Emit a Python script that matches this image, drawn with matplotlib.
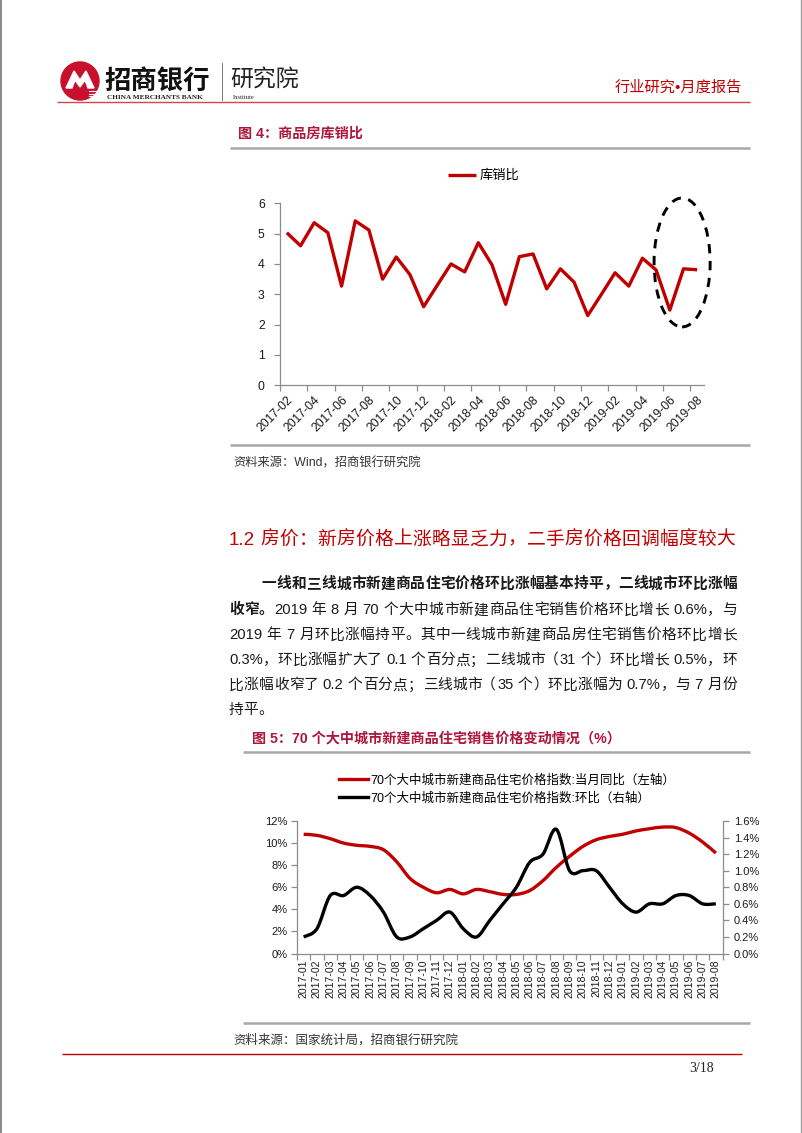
import numpy as np
import pandas as pd
import matplotlib
matplotlib.use("Agg")
import matplotlib.pyplot as plt
from matplotlib.patches import Ellipse, Circle, Polygon, PathPatch
from matplotlib.path import Path
from matplotlib.lines import Line2D
from matplotlib.ticker import FuncFormatter, FixedLocator

plt.rcParams['font.family'] = ['Liberation Sans', 'Noto Sans CJK SC', 'DejaVu Sans']

W, H, DPI = 802, 1133, 100

# ---------------- data ----------------
ratio_months = [p.strftime('%Y-%m') for p in pd.period_range('2017-02', '2019-08', freq='M')]
inventory_sales_ratio = [5.03, 4.60, 5.36, 5.03, 3.27, 5.42, 5.12, 3.50, 4.23, 3.65,
                         2.59, 3.30, 4.00, 3.74, 4.70, 3.97, 2.67, 4.24, 4.33, 3.18,
                         3.84, 3.40, 2.30, 3.00, 3.71, 3.27, 4.19, 3.80, 2.48, 3.84, 3.81]

price_months = [p.strftime('%Y-%m') for p in pd.period_range('2017-01', '2019-08', freq='M')]
price_yoy = [10.8, 10.7, 10.4, 10.0, 9.8, 9.7, 9.4, 8.3, 6.8, 6.0, 5.5, 5.8,
             5.4, 5.8, 5.6, 5.35, 5.35, 5.7, 6.6, 7.8, 8.8, 9.7, 10.3, 10.6,
             10.8, 11.1, 11.3, 11.45, 11.4, 10.9, 10.1, 9.1]
price_mom = [0.2, 0.3, 0.7, 0.7, 0.8, 0.7, 0.5, 0.2, 0.2, 0.3, 0.4, 0.5,
             0.3, 0.2, 0.4, 0.6, 0.8, 1.1, 1.2, 1.5, 1.0, 1.0, 1.0, 0.8,
             0.6, 0.5, 0.6, 0.6, 0.7, 0.7, 0.6, 0.6]

ratio_label = '库销比'
yoy_label = '70个大中城市新建商品住宅价格指数:当月同比（左轴）'
mom_label = '70个大中城市新建商品住宅价格指数:环比（右轴）'

# highlighted region on chart 1 (centre month, offset, centre value, width in months, height)
highlight_month = '2019-07'
highlight_dx, highlight_y, highlight_w, highlight_h = -0.1, 4.05, 4.1, 4.25

fig4_title = '图 4：商品房库销比'
fig5_title = '图 5：70 个大中城市新建商品住宅销售价格变动情况（%）'
source4 = '资料来源：Wind，招商银行研究院'
source5 = '资料来源：国家统计局，招商银行研究院'
heading = '1.2 房价：新房价格上涨略显乏力，二手房价格回调幅度较大'
body_lines = [
    [('一线和三线城市新建商品住宅价格环比涨幅基本持平，二线城市环比涨幅', 'bold')],
    [('收窄。', 'bold'), ('2019 年 8 月 70 个大中城市新建商品住宅销售价格环比增长 0.6%，与', 'normal')],
    [('2019 年 7 月环比涨幅持平。其中一线城市新建商品房住宅销售价格环比增长', 'normal')],
    [('0.3%，环比涨幅扩大了 0.1 个百分点；二线城市（31 个）环比增长 0.5%，环', 'normal')],
    [('比涨幅收窄了 0.2 个百分点；三线城市（35 个）环比涨幅为 0.7%，与 7 月份', 'normal')],
    [('持平。', 'normal')],
]

RED = '#C00000'
TITLE_RED = '#B0173C'
GRAY_LINE = '#A8A8A8'
AXIS_GRAY = '#8C8C8C'
TEXT = '#1A1A1A'
CJK = ['Liberation Sans', 'Noto Sans CJK SC']

# ---------------- page ----------------
fig = plt.figure(figsize=(W / DPI, H / DPI), dpi=DPI)
fig.patch.set_facecolor('white')
page = fig.add_axes([0, 0, 1, 1])
page.set_xlim(0, W)
page.set_ylim(H, 0)
page.axis('off')

def px_axes(x0, y0, x1, y1):
    return fig.add_axes([x0 / W, 1 - y1 / H, (x1 - x0) / W, (y1 - y0) / H])

def hline(y, x0, x1, color, lw):
    page.plot([x0, x1], [y, y], color=color, lw=lw, solid_capstyle='butt')

def smooth_path(xs, ys):
    """Excel-style smoothed line: cubic Bezier segments through the data points."""
    p = np.column_stack([xs, ys]).astype(float)
    n = len(p)
    verts = [p[0]]
    codes = [Path.MOVETO]
    for i in range(n - 1):
        p0 = p[i - 1] if i > 0 else p[i]
        p3 = p[i + 2] if i + 2 < n else p[i + 1]
        c1 = p[i] + (p[i + 1] - p0) / 6.0
        c2 = p[i + 1] - (p3 - p[i]) / 6.0
        verts += [c1, c2, p[i + 1]]
        codes += [Path.CURVE4] * 3
    return Path(np.array(verts), codes)

# page border (left / right edges)
page.plot([0.8, 0.8], [0, H], color='#7F7F7F', lw=1.3)
page.plot([W - 0.8, W - 0.8], [0, H], color='#9F9F9F', lw=1.0)

# logo
cx, cy = 80, 81
page.add_patch(Circle((cx, cy), 19, color='#C8102E'))
page.add_patch(Polygon([(cx - 14, cy + 7), (cx - 6, cy - 10), (cx, cy - 1), (cx + 6, cy - 10),
                        (cx + 14, cy + 7), (cx + 8, cy + 7), (cx + 5, cy - 1), (cx, cy + 6),
                        (cx - 5, cy - 1), (cx - 8, cy + 7)], closed=True, color='white'))
for k in range(3):
    page.plot([cx + 9, cx + 17], [cy + 10 + 2.5 * k, cy + 10 + 2.5 * k], color='white', lw=0.8)
page.text(104, 81, '招商银行', fontsize=19, fontweight='bold', family=CJK, color='#111111',
          va='center', ha='left')
page.text(107, 97.5, 'CHINA MERCHANTS BANK', fontsize=5.2, family='Liberation Serif',
          fontweight='bold', color='#222222', va='center', ha='left')
page.plot([222, 222], [63, 100], color='#777777', lw=0.7)
page.text(230, 80, '研究院', fontsize=16.5, family=CJK, color='#222222', va='center', ha='left')
page.text(233, 97.5, 'Institute', fontsize=4.8, family='Liberation Serif', color='#222222',
          va='center', ha='left')
page.text(742, 88, '行业研究•月度报告', fontsize=11, family=CJK, color=RED, va='center', ha='right')
hline(102, 57, 750, '#D8434B', 1.0)

# ---------------- justified text helper ----------------
renderer = fig.canvas.get_renderer()
_cache = {}

def measure(s, **kw):
    key = (s, tuple(sorted((k, str(v)) for k, v in kw.items())))
    if key not in _cache:
        t = page.text(0, 0, s, **kw)
        _cache[key] = t.get_window_extent(renderer=renderer).width
        t.remove()
    return _cache[key]

def draw_line(segments, x0, x1, y, size, color, justify=True, family=CJK):
    tokens = []
    for txt, weight in segments:
        run = ''
        for ch in txt:
            if ch == ' ':
                if run:
                    tokens.append((run, weight)); run = ''
                tokens.append((' ', weight))
            elif ord(ch) < 128:
                run += ch
            else:
                if run:
                    tokens.append((run, weight)); run = ''
                tokens.append((ch, weight))
        if run:
            tokens.append((run, weight))
    em = size * DPI / 72
    widths = []
    for tok, weight in tokens:
        if tok == ' ':
            widths.append(0.27 * em)
        else:
            kw = dict(fontsize=size, fontweight=weight, family=family)
            widths.append(measure('中' + tok + '中', **kw) - measure('中中', **kw))
    gap = 0.0
    if justify and len(tokens) > 1:
        gap = (x1 - x0 - sum(widths)) / (len(tokens) - 1)
    x = x0
    for (tok, weight), w in zip(tokens, widths):
        if tok != ' ':
            if tok == '（':
                page.text(x + w - 0.1 * em, y, tok, ha='right', va='baseline', fontsize=size,
                          fontweight=weight, family=family, color=color)
            else:
                page.text(x, y, tok, ha='left', va='baseline', fontsize=size,
                          fontweight=weight, family=family, color=color)
        x += w + gap

# ---------------- figure 4 block ----------------
page.text(238, 134, fig4_title, fontsize=10.2, fontweight='bold', family=CJK, color=TITLE_RED,
          va='center', ha='left')
hline(148, 230, 750, GRAY_LINE, 1.8)

ax1 = px_axes(280, 203.3, 704, 385.3)
ax1.set_facecolor('none')
x1 = np.arange(len(ratio_months))
line1, = ax1.plot(x1, inventory_sales_ratio, color=RED, lw=2.4, solid_joinstyle='round',
                  solid_capstyle='butt')
ax1.set_xlim(-0.5, len(ratio_months) - 0.5)
ax1.set_ylim(0, 6)
ax1.set_yticks(range(0, 7))
ax1.xaxis.set_major_locator(FixedLocator(np.arange(-0.5, len(ratio_months) - 1, 2)))
ax1.xaxis.set_major_formatter(FuncFormatter(lambda v, p: ''))
ax1.set_xticks(x1[::2], minor=True)
ax1.set_xticklabels(ratio_months[::2], minor=True, rotation=45, ha='right',
                    rotation_mode='anchor', fontsize=8.8, color=TEXT)
ax1.tick_params(axis='x', which='minor', length=0, pad=6)
ax1.tick_params(axis='x', which='major', length=4, color=AXIS_GRAY, width=0.9, direction='out')
ax1.tick_params(axis='y', length=4, color=AXIS_GRAY, width=0.9, labelsize=8.8,
                labelcolor=TEXT, pad=7)
for s in ['top', 'right']:
    ax1.spines[s].set_visible(False)
for s in ['left', 'bottom']:
    ax1.spines[s].set_color(AXIS_GRAY)
    ax1.spines[s].set_linewidth(0.9)
hx = ratio_months.index(highlight_month) + highlight_dx
ax1.add_patch(Ellipse((hx, highlight_y), highlight_w, highlight_h, fill=False, ec='black',
                      lw=2.1, ls=(0, (3.2, 2.6)), clip_on=False))
ax1.legend([line1], [ratio_label], loc='center', bbox_to_anchor=(484, 176),
           bbox_transform=page.transData, frameon=False, handlelength=2.1, handletextpad=0.3,
           borderpad=0, prop={'family': CJK, 'size': 9.5})

hline(445, 230, 750, GRAY_LINE, 1.8)
page.text(233, 463, source4, fontsize=8.8, family=CJK, color='#333333', va='center', ha='left')

# ---------------- section text ----------------
em_h = 13.5 * DPI / 72
draw_line([(heading, 'normal')], 229, 735, 538 + 0.36 * em_h, 13.5, RED)

body_size = 10.6
em_b = body_size * DPI / 72
body_y = [583, 609, 634, 659, 684, 709]
for i, segs in enumerate(body_lines):
    x0 = 262 if i == 0 else 229
    draw_line(segs, x0, 737, body_y[i] + 0.36 * em_b, body_size, TEXT,
              justify=(i < len(body_lines) - 1))

# ---------------- figure 5 block ----------------
page.text(252, 738, fig5_title, fontsize=10.2, fontweight='bold', family=CJK, color=TITLE_RED,
          va='center', ha='left')
hline(752, 243, 750, GRAY_LINE, 1.8)

ax2 = px_axes(297, 821, 722.5, 953.5)
ax2.set_facecolor('none')
x2 = np.arange(len(price_months))
ax2.add_patch(PathPatch(smooth_path(x2, price_yoy), fill=False, ec=RED, lw=2.4,
                        joinstyle='round', capstyle='butt'))
ax2.set_xlim(-0.5, len(price_months) - 0.5)
ax2.set_ylim(0, 12)
ax2.set_yticks(np.arange(0, 13, 2))
ax2.yaxis.set_major_formatter(FuncFormatter(lambda v, p: f'{v:.0f}%'))
ax2r = ax2.twinx()
ax2r.add_patch(PathPatch(smooth_path(x2, price_mom), fill=False, ec='black', lw=2.4,
                         joinstyle='round', capstyle='butt'))
ax2r.set_ylim(0, 1.6)
ax2r.set_yticks(np.arange(0, 1.61, 0.2))
ax2r.yaxis.set_major_formatter(FuncFormatter(lambda v, p: f'{v:.1f}%'))
ax2.xaxis.set_major_locator(FixedLocator(np.arange(-0.5, len(price_months), 1)))
ax2.xaxis.set_major_formatter(FuncFormatter(lambda v, p: ''))
ax2.set_xticks(x2, minor=True)
ax2.set_xticklabels(price_months, minor=True, rotation=90, ha='center', va='top',
                    fontsize=7.6, color=TEXT)
ax2.tick_params(axis='x', which='minor', length=0, pad=4)
ax2.tick_params(axis='x', which='major', length=4, color=AXIS_GRAY, width=0.9)
ax2.tick_params(axis='y', length=4, color=AXIS_GRAY, width=0.9, labelsize=8, labelcolor=TEXT, pad=3)
ax2r.tick_params(axis='y', length=4, color=AXIS_GRAY, width=0.9, labelsize=8, labelcolor=TEXT, pad=4)
for a in (ax2, ax2r):
    a.spines['top'].set_visible(False)
    for s in ['left', 'right', 'bottom']:
        a.spines[s].set_color(AXIS_GRAY)
        a.spines[s].set_linewidth(0.9)
ax2.spines['right'].set_visible(False)
ax2r.spines['left'].set_visible(False)
ax2r.spines['bottom'].set_visible(False)
h_red = Line2D([], [], color=RED, lw=2.4)
h_blk = Line2D([], [], color='black', lw=2.4)
ax2r.legend([h_red, h_blk], [yoy_label, mom_label], loc='upper left', bbox_to_anchor=(333, 768),
            bbox_transform=page.transData, frameon=False, handlelength=2.3, handletextpad=0.2,
            labelspacing=0.45, borderpad=0, prop={'family': CJK, 'size': 9})

hline(1023, 243, 750, GRAY_LINE, 1.8)
page.text(233, 1040, source5, fontsize=9, family=CJK, color='#333333', va='center', ha='left')

# footer
hline(1054, 62, 742, RED, 1.0)
page.text(714, 1069, '3/18', fontsize=10, family='Liberation Serif', color='#222222',
          va='center', ha='right')

fig.savefig('out.png', dpi=DPI, facecolor='white')
